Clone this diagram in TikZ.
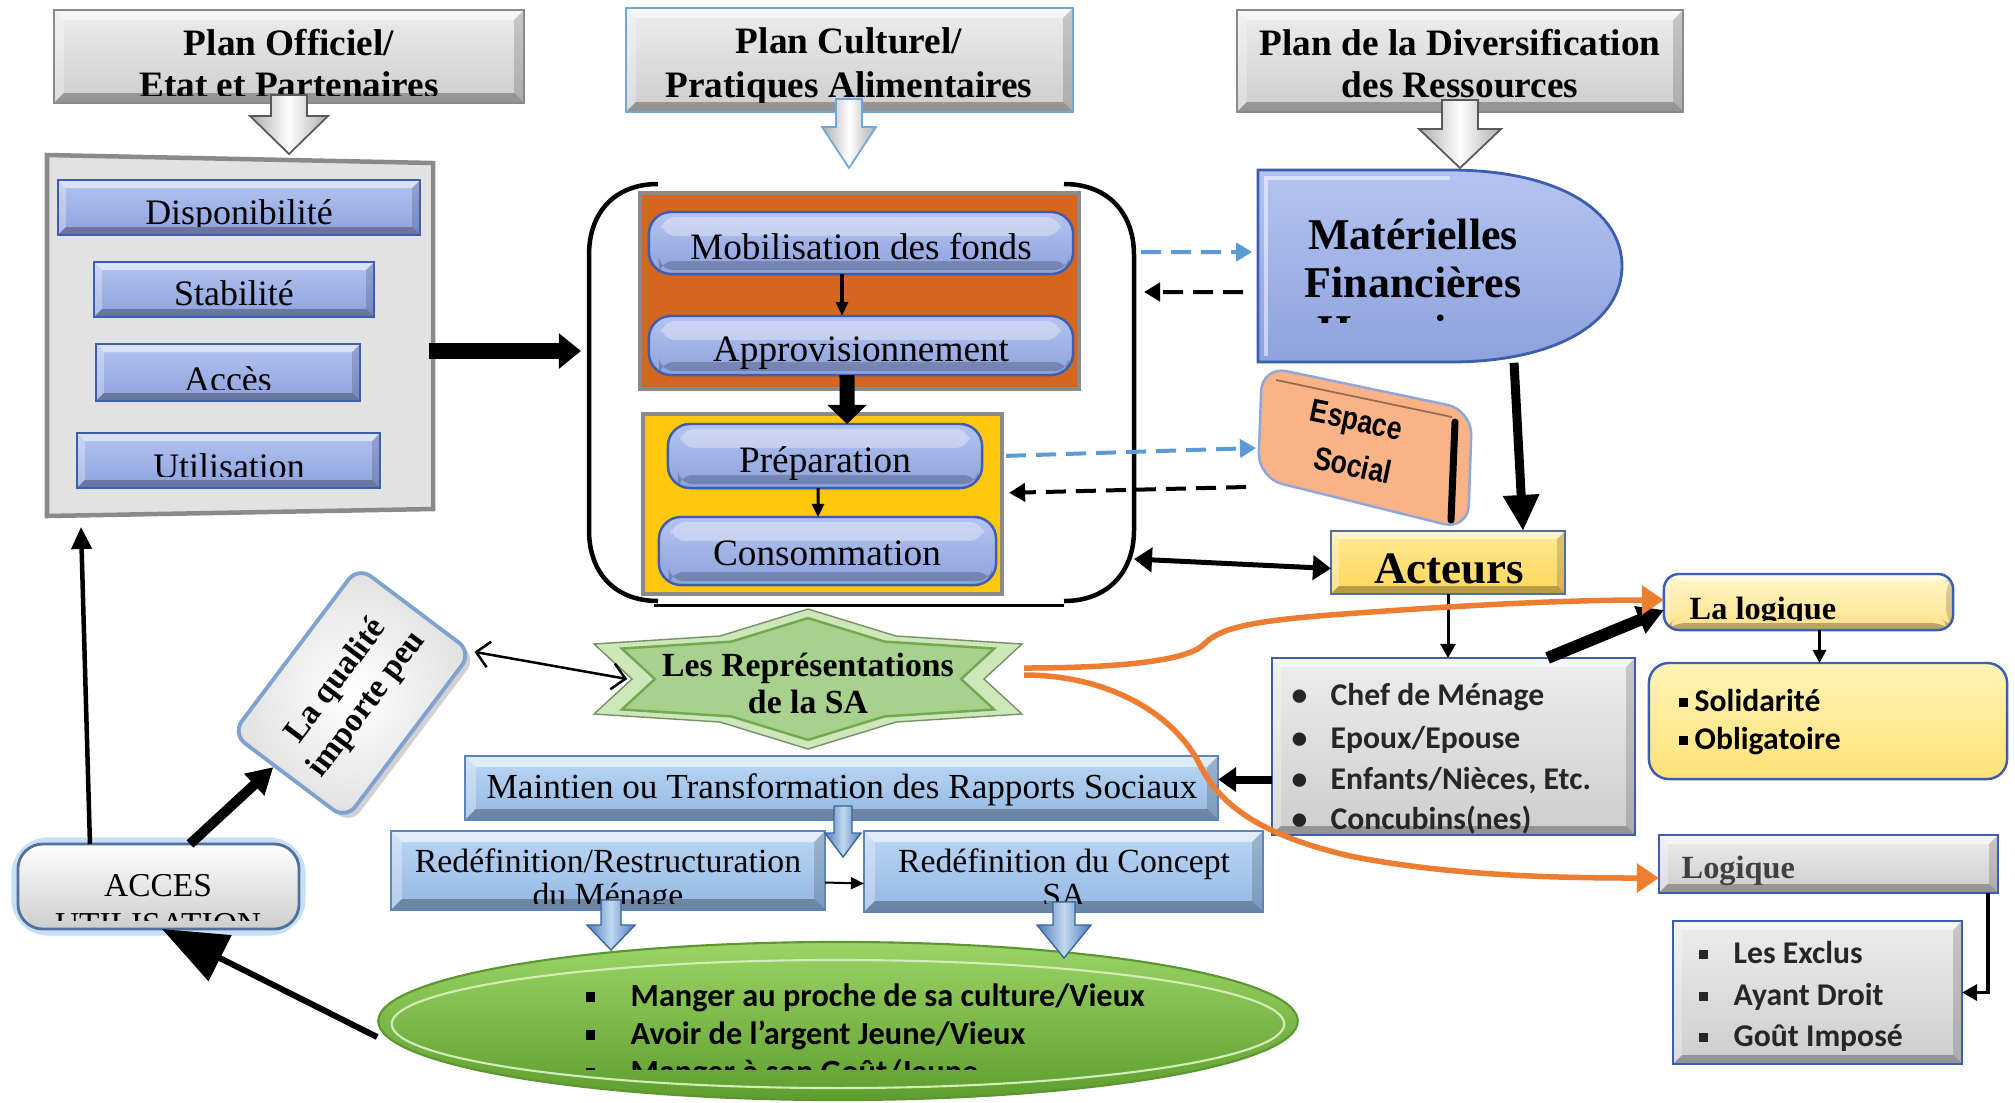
\documentclass[tikz,border=0pt]{standalone}
\usepackage{graphicx}
\usepackage{fontspec}
\setmainfont{Liberation Serif}
\newfontfamily\carl{Carlito}
\newfontfamily\arialf{Liberation Sans}
\usetikzlibrary{arrows.meta,calc,shapes.geometric}
\definecolor{periA}{HTML}{B4C4F1}
\definecolor{periB}{HTML}{8DA1DC}
\definecolor{periD}{HTML}{3D5DB0}
\definecolor{skyA}{HTML}{BCD7F5}
\definecolor{skyB}{HTML}{93B7E2}
\definecolor{skyD}{HTML}{5F84BA}
\definecolor{grA}{HTML}{EDEDED}
\definecolor{grB}{HTML}{CDCDCD}
\definecolor{grD}{HTML}{8A8A8A}
\definecolor{panelF}{HTML}{E2E2E2}
\definecolor{orgF}{HTML}{D4661F}
\definecolor{yelF}{HTML}{FFC80A}
\definecolor{actF}{HTML}{FFE066}
\definecolor{llogF}{HTML}{FFF1A3}
\definecolor{soliF}{HTML}{FFEC85}
\definecolor{espF}{HTML}{F9B387}
\definecolor{espD}{HTML}{8EA6DA}
\definecolor{grnA}{HTML}{9CD466}
\definecolor{grnB}{HTML}{5E9E2E}
\definecolor{grnD}{HTML}{5B9631}
\definecolor{starF}{HTML}{A9D18E}
\definecolor{starL}{HTML}{CDE7BA}
\definecolor{starD}{HTML}{72A94E}
\definecolor{oran}{HTML}{ED7D31}
\definecolor{dblue}{HTML}{5B9BD5}
\definecolor{ltblue}{HTML}{6FA8DC}
\definecolor{txtg}{HTML}{262626}
\definecolor{barA}{HTML}{4A7EBB}
\definecolor{barB}{HTML}{C2D7F0}
\definecolor{glow}{HTML}{9CC8F0}
\definecolor{accD}{HTML}{51709C}
\definecolor{qualD}{HTML}{7FA3CF}
\newcommand\mkbox[7]{\node[#2, minimum width={(#5-#3)*0.1mm}, minimum height={(#6-#4)*0.1mm}, inner sep=0pt, outer sep=0pt] (#1) at ({(#3+#5)/2},{(#4+#6)/2}) {#7};}
\newcommand\tx[4]{\node[anchor=base, inner sep=0pt, #2] (#1) at (#3) {#4};}
\newcommand\ctx[6]{\begin{scope}\clip (#3) rectangle (#4);\node[anchor=base, inner sep=0pt, #2] (#1) at (#5) {#6};\end{scope}}
\newcommand\barrow[7]{\path[#7] ({#1-#5},#2) -- ({#1+#5},#2) -- ({#1+#5},#3) -- ({#1+#6},#3) -- (#1,#4) -- ({#1-#6},#3) -- ({#1-#5},#3) -- cycle;}
\newcommand\sqb{\raisebox{0.12em}{\rule{0.3em}{0.3em}}}
\tikzset{
 bevel/.style={path picture={
   \coordinate (bvA) at (path picture bounding box.north west);
   \coordinate (bvB) at (path picture bounding box.north east);
   \coordinate (bvC) at (path picture bounding box.south east);
   \coordinate (bvD) at (path picture bounding box.south west);
   \fill[white,opacity=0.55] (bvA) -- (bvB) -- ([shift={(-#1,-#1)}]bvB) -- ([shift={(#1,-#1)}]bvA) -- cycle;
   \fill[white,opacity=0.3] (bvA) -- (bvD) -- ([shift={(#1,#1)}]bvD) -- ([shift={(#1,-#1)}]bvA) -- cycle;
   \fill[black,opacity=0.28] (bvD) -- (bvC) -- ([shift={(-#1,#1)}]bvC) -- ([shift={(#1,#1)}]bvD) -- cycle;
   \fill[black,opacity=0.16] (bvB) -- (bvC) -- ([shift={(-#1,#1)}]bvC) -- ([shift={(-#1,-#1)}]bvB) -- cycle;
 }},
 bevel/.default=0.9mm,
 planbox/.style={rectangle, draw=grD, line width=0.7pt, top color=grA, bottom color=grB, bevel=1mm},
 pbox/.style={rectangle, draw=periD, line width=0.7pt, top color=periA, bottom color=periB, bevel=0.8mm},
 pill/.style={rectangle, rounded corners=2.2mm, draw=periD, line width=0.7pt, top color=periA, bottom color=periB,
   path picture={\fill[white,opacity=0.35,rounded corners=1.5mm] ([shift={(1.2mm,-0.5mm)}]path picture bounding box.north west) rectangle ([shift={(-1.2mm,-2.4mm)}]path picture bounding box.north east);
   \fill[black,opacity=0.2,rounded corners=1.5mm] ([shift={(1mm,0.4mm)}]path picture bounding box.south west) rectangle ([shift={(-0.4mm,1.3mm)}]path picture bounding box.south east);}},
 sky/.style={rectangle, draw=skyD, line width=0.7pt, top color=skyA, bottom color=skyB, bevel=1.1mm},
 gbox/.style={rectangle, draw=periD, line width=0.7pt, top color=grA, bottom color=grB, bevel=0.9mm},
 garrow/.style={left color=gray!65, right color=gray!65, middle color=white, draw=gray!70!black, line width=0.5pt},
 barrow/.style={left color=barA, right color=barA, middle color=barB, draw=barA!80!black, line width=0.4pt},
 ttl/.style={font=\bfseries\fontsize{10.6pt}{12pt}\selectfont},
 rg/.style={font=\fontsize{10.2pt}{12pt}\selectfont},
 rgm/.style={font=\fontsize{10.6pt}{12pt}\selectfont},
 rgs/.style={font=\fontsize{9.6pt}{12pt}\selectfont},
 bigb/.style={font=\bfseries\fontsize{12.5pt}{14pt}\selectfont},
 smb/.style={font=\bfseries\fontsize{9.2pt}{11pt}\selectfont},
 lst/.style={anchor=base west, text=txtg, font=\carl\bfseries\fontsize{9pt}{11pt}\selectfont},
 dshb/.style={draw=dblue, line width=0.4mm, dash pattern=on 2mm off 1mm, -{Triangle[length=1.6mm,width=1.8mm]}},
 dshk/.style={draw=black, line width=0.4mm, dash pattern=on 2mm off 1mm, -{Triangle[length=1.6mm,width=1.8mm]}},
 oar/.style={draw=oran, line width=0.55mm, -{Triangle[length=2.2mm,width=2.8mm]}},
}
\begin{document}
\begin{tikzpicture}[x={(0.01cm,0)}, y={(0,-0.01cm)}]
\useasboundingbox (0,0) rectangle (2015,1102);
\fill[white] (0,0) rectangle (2015,1102);

% ---------- top plan boxes
\mkbox{p1}{planbox}{54}{10}{524}{103}{}
\mkbox{p2}{planbox,draw=ltblue}{626}{8}{1073}{112}{}
\mkbox{p3}{planbox}{1237}{10}{1683}{112}{}
\tx{p1a}{ttl}{289,55}{Plan Officiel/}
\ctx{p1b}{ttl}{60,60}{520,95}{289,97}{Etat et Partenaires}
\tx{p2a}{ttl}{849,53}{Plan Culturel/}
\ctx{p2b}{ttl}{630,60}{1070,102}{849,97}{Pratiques Alimentaires}
\tx{p3a}{ttl}{1460,55}{Plan de la Diversification}
\tx{p3b}{ttl}{1460,97}{des Ressources}
\barrow{289}{95}{116}{154}{18}{39}{garrow}
\barrow{849}{99}{127}{168}{13}{27}{garrow,draw=ltblue}
\barrow{1460}{100}{129}{168}{18}{41}{garrow}

% ---------- left panel
\draw[draw=grD, fill=panelF, line width=0.45mm] (47,155) -- (433,163) -- (433,509) -- (47,516) -- cycle;
\coordinate (pnlR) at (429,351);
\coordinate (pnlB) at (81,527);
\mkbox{dis}{pbox}{58}{180}{420}{235}{}
\mkbox{sta}{pbox}{94}{262}{374}{317}{}
\mkbox{acs}{pbox}{96}{344}{360}{401}{}
\mkbox{uti}{pbox}{77}{433}{380}{488}{}
\ctx{tdis}{rg}{60,182}{418,226}{239,224}{Disponibilité}
\tx{tsta}{rg}{234,305}{Stabilité}
\ctx{tacs}{rg}{98,346}{358,389}{228,391}{Accès}
\ctx{tuti}{rg}{79,435}{378,476}{229,478}{Utilisation}

% ---------- central bracket
\draw[line width=0.45mm] (658,184) .. controls (615,184) and (589,212) .. (589,255) -- (589,530) .. controls (589,573) and (615,601) .. (658,601);
\draw[line width=0.45mm] (1064,184) .. controls (1107,184) and (1134,212) .. (1134,255) -- (1134,530) .. controls (1134,573) and (1107,601) .. (1064,601);
\draw[line width=0.3mm] (654,605) -- (1064,605);
\coordinate (brL) at (581,351);
\coordinate (brR1) at (1141,252);
\coordinate (brR2) at (1144,292);
\coordinate (brR3) at (1134,559);

\mkbox{obox}{rectangle, fill=orgF, draw=grD, line width=0.45mm}{640}{193}{1079}{389}{}
\mkbox{ybox}{rectangle, fill=yelF, draw=grD, line width=0.45mm}{643}{414}{1002}{594}{}
\mkbox{mob}{pill}{649}{212}{1073}{274}{}
\mkbox{appro}{pill}{649}{316}{1073}{375}{}
\mkbox{prep}{pill}{668}{424}{982}{488}{}
\mkbox{cons}{pill}{659}{517}{996}{585}{}
\tx{tmob}{rgm}{861,259}{Mobilisation des fonds}
\tx{tappro}{rgm}{861,361}{Approvisionnement}
\tx{tprep}{rgm}{825,472}{Préparation}
\tx{tcons}{rgm}{827,565}{Consommation}

% ---------- Matérielles
\path[draw=periD, line width=0.8pt, top color=periA, bottom color=periB] (1258,170) -- (1450,170) .. controls (1560,170) and (1622,212) .. (1622,266) .. controls (1622,320) and (1560,362) .. (1450,362) -- (1258,362) -- cycle;
\draw[white, opacity=0.5, line width=1.2pt] (1266,356) -- (1266,178) -- (1450,178);
\node[minimum width=36.4mm, minimum height=19.2mm, inner sep=0pt] (mat) at (1440,266) {};
\tx{mat1}{bigb}{1413,249}{Matérielles}
\tx{mat2}{bigb}{1413,297}{Financières}
\ctx{mat3}{bigb}{1270,300}{1600,322}{1413,345}{Humaines}

% ---------- Espace Social
\draw[fill=espF, draw=espD, line width=0.7pt, rounded corners=2.5mm] (1262,366) -- (1472,410) -- (1468,530) -- (1258,478) -- cycle;
\draw[espF!60!black, line width=0.5pt] (1276,380) -- (1452,417);
\draw[black, line width=0.7mm, line cap=round] (1455,422) -- (1451,520);
\node[rotate=-12, inner sep=0pt, font=\arialf\bfseries\fontsize{9.2pt}{11pt}\selectfont] (esp1) at (1356,423) {\scalebox{0.82}[1]{Espace}};
\node[rotate=-12, inner sep=0pt, font=\arialf\bfseries\fontsize{9.2pt}{11pt}\selectfont] (esp2) at (1353,465) {\scalebox{0.82}[1]{Social}};
\coordinate (espL1) at (1256,448);
\coordinate (espL2) at (1246,487);

% ---------- Acteurs and right column
\mkbox{act}{rectangle, draw=accD, line width=0.7pt, top color=actF!70!white, bottom color=actF!90!orange, bevel=0.8mm}{1331}{531}{1565}{594}{}
\tx{tact}{font=\bfseries\fontsize{12.8pt}{14pt}\selectfont}{1449,583}{Acteurs}
\mkbox{llog}{rectangle, rounded corners=1.5mm, draw=periD, line width=0.7pt, top color=llogF!60!white, bottom color=llogF!85!orange, bevel=0.7mm}{1664}{574}{1953}{630}{}
\ctx{tllog}{smb,anchor=base west}{1666,576}{1950,620}{1689,619}{La logique}
\mkbox{chef}{gbox}{1272}{658}{1635}{835}{}
\tx{c1}{lst}{1291,705}{\makebox[3.9mm][l]{•}Chef de Ménage}
\tx{c2}{lst}{1291,748}{\makebox[3.9mm][l]{•}Epoux/Epouse}
\tx{c3}{lst}{1291,789}{\makebox[3.9mm][l]{•}Enfants/Nièces, Etc.}
\tx{c4}{lst}{1291,829}{\makebox[3.9mm][l]{•}Concubins(nes)}
\mkbox{soli}{rectangle, rounded corners=2mm, draw=periD, line width=0.7pt, top color=soliF!60!white, bottom color=soliF!90!orange}{1649}{663}{2007}{779}{}
\tx{s1}{lst,text=black}{1678,711}{\makebox[1.6mm][l]{\sqb}Solidarité}
\tx{s2}{lst,text=black}{1678,749}{\makebox[1.6mm][l]{\sqb}Obligatoire}
\mkbox{logq}{gbox}{1659}{835}{1998}{893}{}
\tx{tlogq}{smb,anchor=base west,text=black!75}{1681,878}{Logique}
\mkbox{excl}{gbox}{1673}{921}{1962}{1064}{}
\tx{e1}{lst}{1698,963}{\makebox[3.5mm][l]{\sqb}Les Exclus}
\tx{e2}{lst}{1698,1005}{\makebox[3.5mm][l]{\sqb}Ayant Droit}
\tx{e3}{lst}{1698,1046}{\makebox[3.5mm][l]{\sqb}Goût Imposé}

% ---------- star
\begin{scope}[shift={(808,679)}]
\draw[fill=starL, draw=starF!70!black, line width=0.4pt] (0,-70) -- (88,-43) -- (214,-35) -- (176,0) -- (214,35) -- (88,43) -- (0,70) -- (-88,43) -- (-214,35) -- (-176,0) -- (-214,-35) -- (-88,-43) -- cycle;
\draw[fill=starF, draw=starD, line width=0.7pt, scale=0.87] (0,-70) -- (88,-43) -- (214,-35) -- (176,0) -- (214,35) -- (88,43) -- (0,70) -- (-88,43) -- (-214,35) -- (-176,0) -- (-214,-35) -- (-88,-43) -- cycle;
\end{scope}
\node[minimum width=36mm, minimum height=14mm, inner sep=0pt] (rep) at (808,679) {};
\tx{rep1}{font=\bfseries\fontsize{9.6pt}{11pt}\selectfont}{808,676}{Les Représentations}
\tx{rep2}{font=\bfseries\fontsize{9.6pt}{11pt}\selectfont}{808,713}{de la SA}
\coordinate (repR1) at (1024,668);
\coordinate (repR2) at (1024,675);

% ---------- La qualité
\node[rectangle, rounded corners=1.6mm, rotate=53, minimum width=20.9mm, minimum height=14.2mm, fill=black!40, opacity=0.45, inner sep=0pt] (qualsh) at (357,698) {};
\node[rectangle, rounded corners=1.6mm, rotate=53, minimum width=20.9mm, minimum height=14.2mm, draw=qualD, line width=1.1pt, inner color=white, outer color=black!12, inner sep=0pt, align=center, font=\bfseries\fontsize{9.5pt}{11pt}\selectfont] (qual) at (352,693) {La qualité\\importe peu};

% ---------- lower blue boxes
\mkbox{main}{sky}{465}{756}{1218}{820}{}
\tx{tmain}{font=\fontsize{10pt}{12pt}\selectfont}{842,798}{Maintien ou Transformation des Rapports Sociaux}
\mkbox{red1}{sky}{391}{831}{825}{910}{}
\mkbox{red2}{sky}{864}{831}{1263}{912}{}
\tx{r1a}{rgs}{608,872}{Redéfinition/Restructuration}
\ctx{r1b}{rgs}{395,875}{820,903}{608,906}{du Ménage}
\tx{r2a}{rgs}{1064,872}{Redéfinition du Concept}
\ctx{r2b}{rgs}{868,875}{1258,903}{1064,906}{SA}

% ---------- ellipse
\node[ellipse, minimum width=91.9mm, minimum height=15.8mm, top color=grnA, bottom color=grnB, draw=grnD, line width=0.6pt, inner sep=0pt] (ell) at (838,1021) {};
\draw[white!55!grnA, line width=0.6pt] (838,1024) ellipse [x radius=44.6mm, y radius=6.4mm];
\tx{el1}{lst,text=black,font=\carl\bfseries\fontsize{9.2pt}{11pt}\selectfont}{585,1006}{\makebox[4.5mm][l]{\sqb}Manger au proche de sa culture/Vieux}
\tx{el2}{lst,text=black,font=\carl\bfseries\fontsize{9.2pt}{11pt}\selectfont}{585,1044}{\makebox[4.5mm][l]{\sqb}Avoir de l’argent Jeune/Vieux}
\ctx{el3}{lst,text=black,font=\carl\bfseries\fontsize{9.2pt}{11pt}\selectfont}{580,1050}{1200,1069}{585,1082}{\makebox[4.5mm][l]{\sqb}Manger à son Goût/Jeune}

% ---------- ACCES
\mkbox{accg}{rectangle, rounded corners=3mm, draw=glow, line width=1.3mm, opacity=0.55}{18}{844}{299}{929}{}
\mkbox{acc}{rectangle, rounded corners=2.5mm, draw=accD, line width=0.8pt, top color=white, bottom color=grB}{18}{844}{299}{929}{}
\tx{acc1}{font=\fontsize{9.5pt}{11pt}\selectfont}{158,896}{ACCES}
\ctx{acc2}{font=\fontsize{9.5pt}{11pt}\selectfont}{25,900}{290,920}{158,935}{UTILISATION}

% ---------- block arrows (blue)
\barrow{843}{806}{833}{857}{9}{18}{barrow}
\barrow{611}{900}{925}{950}{10}{24}{barrow}
\barrow{1064}{902}{925}{958}{11}{27}{barrow}

% ---------- connectors
\draw[line width=1.6mm, -{Triangle[length=2.2mm,width=3.4mm]}] (pnlR) -- (brL);
\draw[line width=0.3mm, -{Triangle[length=1.4mm,width=1.2mm]}] ([xshift=-1.9mm]mob.south) -- ([xshift=-1.9mm]appro.north);
\draw[line width=1.5mm, -{Triangle[length=1.9mm,width=3.8mm]}] ([xshift=-1.4mm]appro.south) -- ([xshift=2.2mm]prep.north);
\draw[line width=0.3mm, -{Triangle[length=1.3mm,width=1.2mm]}] ([xshift=-0.7mm]prep.south) -- ([xshift=-0.95mm]cons.north);
\draw[dshb, shorten >=0.5mm] (brR1) -- ([yshift=1.4mm]mat.west);
\draw[dshk, shorten <=1.4mm] ([yshift=-2.6mm]mat.west) -- (brR2);
\draw[dshb, shorten <=0.4mm] ([yshift=4.8mm]ybox.east) -- (espL1);
\draw[dshk, shorten >=0.7mm] (espL2) -- ([yshift=1.1mm]ybox.east);
\draw[line width=0.9mm, -{Triangle[length=3.6mm,width=3.4mm]}] ([xshift=7.4mm]mat.south) -- ([xshift=7.5mm]act.north);
\draw[line width=0.5mm, {Triangle[length=1.8mm,width=2.4mm]}-{Triangle[length=1.8mm,width=2.4mm]}] (brR3) -- ([yshift=-0.6mm]act.west);
\draw[line width=0.3mm, -{Triangle[length=1.4mm,width=1.5mm]}] (act.south) -- (act.south |- chef.north);
\draw[line width=1.2mm, -{Triangle[length=2.6mm,width=2.8mm]}] ([xshift=9.4mm]chef.north) -- ([yshift=-0.8mm]llog.west);
\draw[line width=0.3mm, -{Triangle[length=1.3mm,width=1.3mm]}] ([xshift=1.1mm]llog.south) -- ([xshift=1.1mm]llog.south |- soli.north);
\draw[line width=0.8mm, -{Triangle[length=1.8mm,width=2.4mm]}] ([yshift=-3.3mm]chef.west) -- ([yshift=-3.3mm]chef.west -| main.east);
\draw[line width=0.35mm, -{Triangle[length=1.5mm,width=1.6mm]}] ([xshift=-1mm]logq.south east) |- (excl.east);
\draw[line width=0.2mm, -{Triangle[length=1.3mm,width=1.2mm]}] ($(red1.east)+(0,12)$) -- ($(red2.west)+(0,12)$);
\draw[line width=0.25mm, {Straight Barb[length=1.3mm,width=2.6mm]}-{Straight Barb[length=1.3mm,width=2.6mm]}] (qual.south east) -- (rep.west);
\draw[line width=0.45mm, -{Triangle[length=2.2mm,width=2mm]}] ([xshift=7.2mm]acc.north west) -- (pnlB);
\draw[line width=1mm, -{Triangle[length=2.6mm,width=2.8mm]}] ([xshift=17.2mm]acc.north west) -- ($(qual.west)!0.25!(qual.north west)$);
\draw[line width=0.6mm, -{Triangle[length=6.5mm,width=5mm]}] ([yshift=-1.6mm]ell.west) -- ([xshift=14.4mm]acc.south west);
\draw[oar] (repR1) .. controls (1110,668) and (1185,662) .. (1203,645) .. controls (1218,630) and (1240,622) .. (1330,615) .. controls (1450,606) and (1560,600) .. ([yshift=0.2mm]llog.west);
\draw[oar] (repR2) .. controls (1110,675) and (1175,715) .. (1200,765) .. controls (1220,805) and (1260,835) .. (1350,856) .. controls (1450,876) and (1560,878) .. ([yshift=-1.4mm]logq.west);
\end{tikzpicture}
\end{document}
